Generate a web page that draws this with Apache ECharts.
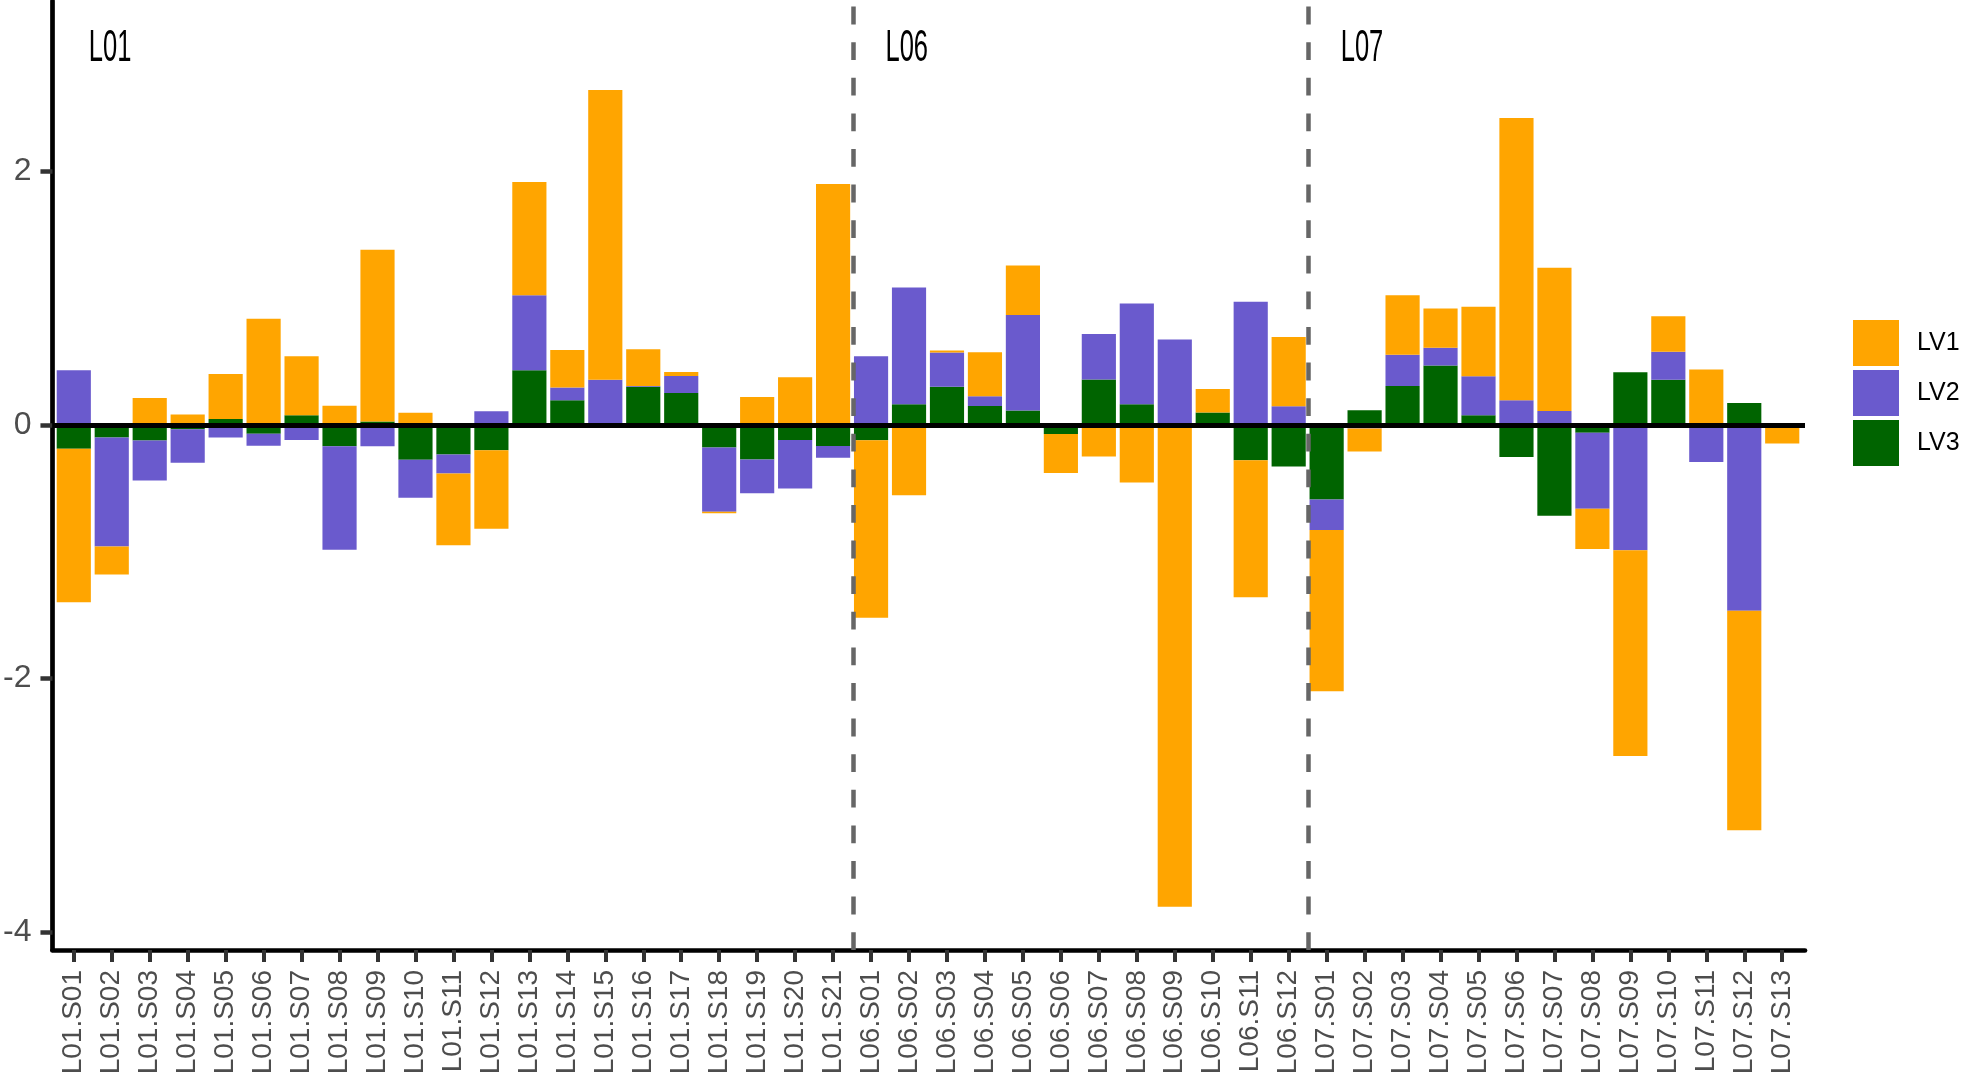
<!DOCTYPE html>
<html>
<head>
<meta charset="utf-8">
<script src="https://cdn.jsdelivr.net/npm/echarts@6/dist/echarts.min.js"></script>
<style>
html,body{margin:0;padding:0;background:#fff;}
#chart{width:1961px;height:1078px;}
</style>
</head>
<body>
<div id="chart"></div>
<script>
const categories = [
  'L01.S01','L01.S02','L01.S03','L01.S04','L01.S05','L01.S06','L01.S07','L01.S08','L01.S09','L01.S10',
  'L01.S11','L01.S12','L01.S13','L01.S14','L01.S15','L01.S16','L01.S17','L01.S18','L01.S19','L01.S20','L01.S21',
  'L06.S01','L06.S02','L06.S03','L06.S04','L06.S05','L06.S06','L06.S07','L06.S08','L06.S09','L06.S10','L06.S11','L06.S12',
  'L07.S01','L07.S02','L07.S03','L07.S04','L07.S05','L07.S06','L07.S07','L07.S08','L07.S09','L07.S10','L07.S11','L07.S12','L07.S13'
];
const lv1 = [
  -1.21, -0.22, 0.21, 0.08, 0.355, 0.835, 0.465, 0.15, 1.355, 0.095,
  -0.565, -0.62, 0.894, 0.296, 2.284, 0.29, 0.031, -0.012, 0.218, 0.374, 1.897,
  -1.40, -0.556, 0.016, 0.347, 0.39, -0.309, -0.25, -0.456, -3.80, 0.184, -1.08, 0.545,
  -1.27, -0.18, 0.47, 0.31, 0.548, 2.224, 1.128, -0.316, -1.62, 0.28, 0.436, -1.731, -0.147
];
const lv2 = [
  0.43, -0.86, -0.315, -0.265, -0.10, -0.095, -0.12, -0.815, -0.17, -0.30,
  -0.15, 0.106, 0.59, 0.10, 0.355, 0.006, 0.134, -0.505, -0.265, -0.383, -0.093,
  0.54, 0.919, 0.269, 0.078, 0.753, 0, 0.359, 0.794, 0.672, 0, 0.969, 0.146,
  -0.24, -0.03, 0.246, 0.14, 0.308, 0.193, 0.109, -0.60, -0.99, 0.221, -0.293, -1.466, 0
];
const lv3 = [
  -0.19, -0.10, -0.125, -0.035, 0.045, -0.07, 0.075, -0.17, 0.025, -0.275,
  -0.235, -0.20, 0.43, 0.193, 0, 0.30, 0.25, -0.18, -0.274, -0.12, -0.168,
  -0.122, 0.1625, 0.30, 0.147, 0.1125, -0.072, 0.356, 0.1625, 0, 0.097, -0.28, -0.33,
  -0.59, 0.115, 0.305, 0.467, 0.075, -0.255, -0.717, -0.0625, 0.414, 0.355, 0, 0.172, 0
];
const yTicks = [-4, -2, 0, 2];
const groupLabels = ['L01', 'L06', 'L07'];
const groupStarts = [0, 21, 33];
const labelY = 2.96;

const colors = { LV1: '#FFA500', LV2: '#6A5ACD', LV3: '#006400' };
const Y_MIN = -4.14, Y_MAX = 3.34;

// panel: x from 51 to 1805 px, ggplot discrete expansion 0.6 on each side
const PANEL_L = 51, PANEL_R = 156, TOP = 1, BOTTOM = 128;
const nCat = categories.length;
const unit = (1961 - PANEL_L - PANEL_R) / (nCat - 1 + 1.2);
const inner = 0.1 * unit;

const chart = echarts.init(document.getElementById('chart'), null, { renderer: 'canvas' });

function barSeries(name, arr) {
  return {
    name: name,
    type: 'bar',
    stack: 'total',
    stackStrategy: 'samesign',
    xAxisIndex: 0,
    yAxisIndex: 0,
    barWidth: '90%',
    data: arr,
    itemStyle: { color: colors[name] },
    emphasis: { disabled: true }
  };
}

const option = {
  animation: false,
  backgroundColor: '#ffffff',
  grid: [
    { left: PANEL_L + inner, right: PANEL_R + inner, top: TOP, bottom: BOTTOM, containLabel: false },
    { left: PANEL_L, right: PANEL_R, top: TOP, bottom: BOTTOM, containLabel: false }
  ],
  legend: {
    data: ['LV1', 'LV2', 'LV3'],
    orient: 'vertical',
    left: 1848,
    top: 315,
    icon: 'rect',
    itemWidth: 46,
    itemHeight: 46,
    itemGap: 4,
    selectedMode: false,
    textStyle: { fontSize: 25, color: '#000', fontFamily: 'Liberation Sans', padding: [0, 0, 0, 13] }
  },
  xAxis: [
    {
      type: 'category',
      gridIndex: 0,
      data: categories,
      boundaryGap: true,
      splitLine: { show: false },
      axisLine: { show: false, onZero: false },
      axisTick: { show: true, alignWithLabel: true, interval: 0, length: 12, lineStyle: { color: '#333', width: 4 } },
      axisLabel: {
        interval: 0,
        rotate: 90,
        fontSize: 28,
        margin: 20,
        color: '#4d4d4d',
        fontFamily: 'Liberation Sans'
      }
    },
    {
      type: 'value',
      gridIndex: 1,
      min: -0.6,
      max: nCat - 1 + 0.6,
      splitLine: { show: false },
      axisLine: { show: true, onZero: false, lineStyle: { color: '#000', width: 4.7 } },
      axisTick: { show: false },
      axisLabel: { show: false }
    }
  ],
  yAxis: [
    {
      type: 'value',
      gridIndex: 0,
      min: Y_MIN,
      max: Y_MAX,
      show: false,
      axisLine: { show: false, onZero: false },
      splitLine: { show: false }
    },
    {
      type: 'value',
      gridIndex: 1,
      min: Y_MIN,
      max: Y_MAX,
      splitLine: { show: false },
      axisLine: { show: true, onZero: false, lineStyle: { color: '#000', width: 4.7 } },
      axisTick: { show: true, customValues: yTicks, length: 12, lineStyle: { color: '#333', width: 4.5 } },
      axisLabel: {
        customValues: yTicks,
        fontSize: 32,
        margin: 21,
        color: '#4d4d4d',
        fontFamily: 'Liberation Sans'
      }
    }
  ],
  series: [
    barSeries('LV3', lv3),
    barSeries('LV2', lv2),
    barSeries('LV1', lv1),
    {
      type: 'custom',
      name: 'groups',
      silent: true,
      xAxisIndex: 1,
      yAxisIndex: 1,
      z: 20,
      data: groupStarts.map((s, k) => [s + 0.36, labelY, k]),
      encode: { x: 0, y: 1 },
      renderItem: function (params, api) {
        const pt = api.coord([api.value(0), api.value(1)]);
        return {
          type: 'text',
          x: pt[0],
          y: pt[1],
          scaleX: 0.58,
          style: {
            text: groupLabels[api.value(2)],
            fontSize: 44,
            fontFamily: 'Liberation Sans',
            fill: '#000',
            align: 'left',
            verticalAlign: 'middle'
          }
        };
      },
      markLine: {
        silent: true,
        symbol: 'none',
        label: { show: false },
        z: 10,
        data: [
          { yAxis: 0, lineStyle: { color: '#000', width: 5, type: 'solid' } },
          ...groupStarts.slice(1).map(s => ({ xAxis: s - 0.5, lineStyle: { color: '#666', width: 4.5, type: [17.8, 17.8] } }))
        ]
      }
    }
  ]
};
chart.setOption(option);
</script>
</body>
</html>
